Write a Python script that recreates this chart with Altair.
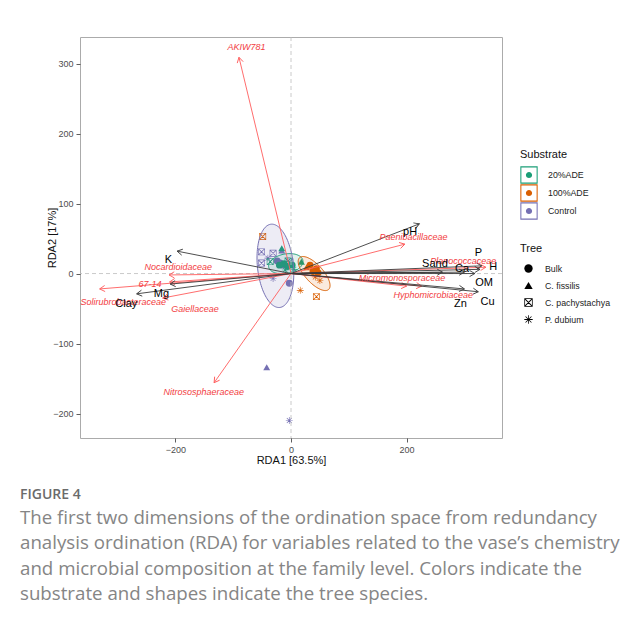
import numpy as np
import pandas as pd
import altair as alt

# ---------------- axes ----------------
x_domain = [-365, 365]
y_domain = [-235, 338]
x_ticks = [-200, 0, 200]
y_ticks = [-200, -100, 0, 100, 200, 300]

substrates = ["20%ADE", "100%ADE", "Control"]
sub_colors = ["#1b9e77", "#d95f02", "#7570b3"]
trees = ["Bulk", "C. fissilis", "C. pachystachya", "P. dubium"]

# ---------------- samples ----------------
sample_substrate = (["Control"] * 13 + ["20%ADE"] * 10 + ["100%ADE"] * 10)
sample_tree = (
    ["Bulk"] * 4 + ["C. fissilis"] * 2 + ["C. pachystachya"] * 4 + ["P. dubium"] * 3
    + ["Bulk"] * 4 + ["C. fissilis"] * 2 + ["C. pachystachya"] * 2 + ["P. dubium"] * 2
    + ["Bulk"] * 4 + ["C. fissilis"] * 1 + ["C. pachystachya"] * 2 + ["P. dubium"] * 3
)
sample_x = [-19, -24, -14, -3, -16, -42, -51, -51, -31, -2, -31, -3, -40,
            -12, -6, -20, 2, -16, 18, -36, -5, -10, 5,
            33, 44, 47, 38, 27, -49, 44, 42, 50, 16]
sample_y = [15, 18, 12, -14, 33, -134, 31, 15, 29, 17, -7, -210, 22,
            14, 10, 12, 12, 36, 17, 17, 18, 5, 6,
            12, 7, 1, 3, 9, 53, -33, -5, -10, -24]

# ---------------- confidence ellipses ----------------
ell_substrate = ["20%ADE", "100%ADE", "Control"]
ell_cx = [-9, 40, -27]
ell_cy = [14, 0, 11]
ell_a = [30, 34, 60]
ell_b = [14, 14, 31]
ell_angle = [8, -40, 98]

# ---------------- environmental vectors ----------------
env_names = ["pH", "K", "P", "Sand", "Ca", "H", "OM", "Cu", "Zn", "Mg", "Clay"]
env_tx = [222, -197, 330, 262, 300, 327, 318, 324, 300, -209, -267]
env_ty = [71, 32, 11, 2, 2, 6, 0, -26, -22, -15, -29]
env_lx = [206, -212, 324, 249, 296, 350, 334, 340, 293, -224, -285]
env_ly = [59, 20, 29, 14, 7, 9, -14, -40, -44, -29, -43]

# ---------------- taxa vectors ----------------
tax_names = ["AKIW781", "Nitrososphaeraceae", "Paenibacillaceae", "Planococcaceae",
             "Micromonosporaceae", "Hyphomicrobiaceae", "Nocardioidaceae", "67-14",
             "Solirubrobacteraceae", "Gaiellaceae"]
tax_tx = [-90, -133, 197, 337, 200, 226, -211, -210, -331, -222]
tax_ty = [309, -156, 42, 9, -18, -18, -2, -12, -22, -35]
tax_lx = [-77, -151, 212, 298, 192, 246, -195, -244, -290, -166]
tax_ly = [323, -169, 52, 18, -6, -31, 10, -15, -40, -50]

caption_head = "FIGURE 4"
caption_lines = [
    "The first two dimensions of the ordination space from redundancy",
    "analysis ordination (RDA) for variables related to the vase\u2019s chemistry",
    "and microbial composition at the family level. Colors indicate the",
    "substrate and shapes indicate the tree species.",
]

W, H = 422, 401
kx = W / (x_domain[1] - x_domain[0])
ky = H / (y_domain[1] - y_domain[0])


def head_angle(tx, ty):
    return [float(np.degrees(np.arctan2(-y * ky, x * kx)) % 360) for x, y in zip(tx, ty)]


df_s = pd.DataFrame({"substrate": sample_substrate, "tree": sample_tree,
                     "x": sample_x, "y": sample_y})
df_env = pd.DataFrame({"name": env_names, "tx": env_tx, "ty": env_ty,
                       "lx": env_lx, "ly": env_ly, "x0": 0, "y0": 0,
                       "ang": head_angle(env_tx, env_ty)})
df_tax = pd.DataFrame({"name": tax_names, "tx": tax_tx, "ty": tax_ty,
                       "lx": tax_lx, "ly": tax_ly, "x0": 0, "y0": 0,
                       "ang": head_angle(tax_tx, tax_ty)})

# ellipse geometry from centre / radii / rotation
rows_line, rows_fill = [], []
for s, cx, cy, a, b, ang in zip(ell_substrate, ell_cx, ell_cy, ell_a, ell_b, ell_angle):
    th = np.radians(ang)
    c, sn = np.cos(th), np.sin(th)
    t = np.linspace(0, 2 * np.pi, 121)
    ex = cx + a * np.cos(t) * c - b * np.sin(t) * sn
    ey = cy + a * np.cos(t) * sn + b * np.sin(t) * c
    for i, (u, v) in enumerate(zip(ex, ey)):
        rows_line.append({"substrate": s, "o": i, "x": float(u), "y": float(v)})
    M11 = c * c / a ** 2 + sn * sn / b ** 2
    M22 = sn * sn / a ** 2 + c * c / b ** 2
    M12 = c * sn * (1 / a ** 2 - 1 / b ** 2)
    half = np.sqrt(a * a * c * c + b * b * sn * sn)
    us = np.linspace(-half, half, 101)
    disc = np.clip(M12 ** 2 * us ** 2 - M22 * (M11 * us ** 2 - 1), 0, None)
    v1 = (-M12 * us + np.sqrt(disc)) / M22
    v2 = (-M12 * us - np.sqrt(disc)) / M22
    for u, p, q in zip(us, v1, v2):
        rows_fill.append({"substrate": s, "x": float(cx + u), "y": float(cy + p), "y2": float(cy + q)})
df_el = pd.DataFrame(rows_line)
df_ef = pd.DataFrame(rows_fill)

xs = alt.Scale(domain=x_domain, nice=False, zero=False)
ys = alt.Scale(domain=y_domain, nice=False, zero=False)
X = lambda f, **k: alt.X(f, type="quantitative", scale=xs, **k)
Y = lambda f, **k: alt.Y(f, type="quantitative", scale=ys, **k)
csc = alt.Scale(domain=substrates, range=sub_colors)

FONT = "Liberation Sans"

# custom symbol shapes
KEY = ("M-1,-1H1V1H-1Z M-0.88,-0.88V0.88H0.88V-0.88Z "
       "M-0.36,0A0.36,0.36 0 1,1 0.36,0A0.36,0.36 0 1,1 -0.36,0Z")
SQX = ("M-1,-1H1V1H-1Z M-0.82,-0.82V0.82H0.82V-0.82Z "
       "M-0.82,-0.82L-0.66,-0.82L0.82,0.66L0.82,0.82L0.66,0.82L-0.82,-0.66Z "
       "M0.82,-0.66L-0.66,0.82L-0.82,0.82L-0.82,0.66L0.66,-0.82L0.82,-0.82Z")
AST = ("M-1,-0.09H1V0.09H-1Z M-0.09,-1H0.09V1H-0.09Z "
       "M-0.6435,-0.7707L0.7707,0.6435L0.6435,0.7707L-0.7707,-0.6435Z "
       "M-0.7707,0.6435L0.6435,-0.7707L0.7707,-0.6435L-0.6435,0.7707Z")
ARROW = "M-1,-0.58L0,0L-1,0.58"

sub_legend = alt.Legend(title="Substrate", orient="none", legendX=440, legendY=112,
                        symbolType=KEY, symbolSize=300, symbolStrokeWidth=0,
                        symbolOpacity=1, rowPadding=0, titlePadding=6, labelOffset=10)
color_enc = alt.Color("substrate:N", scale=csc, legend=sub_legend)

# ---------- layers ----------
points = alt.Chart(df_s).mark_point(filled=True, size=48, opacity=1).encode(
    x=X("x", axis=alt.Axis(values=x_ticks, title="RDA1 [63.5%]")),
    y=Y("y", axis=alt.Axis(values=y_ticks, title="RDA2 [17%]")),
    color=color_enc,
    shape=alt.Shape("tree:N", scale=alt.Scale(domain=trees, range=["circle", "triangle-up", SQX, AST]),
                    legend=alt.Legend(title="Tree", orient="none", legendX=440, legendY=206,
                                      symbolSize=70, rowPadding=7, titlePadding=10,
                                      symbolOffset=4, labelOffset=12,
                                      symbolFillColor="black", symbolStrokeColor="black",
                                      symbolStrokeWidth=0)),
)

ell_fill = alt.Chart(df_ef).mark_area(opacity=0.13).encode(
    x=X("x"), y=Y("y"), y2="y2", color=color_enc, detail="substrate:N",
)
ell_line = alt.Chart(df_el).mark_line(strokeWidth=1).encode(
    x=X("x"), y=Y("y"), order="o:Q", color=color_enc, detail="substrate:N",
)

zero_v = alt.Chart(pd.DataFrame({"v": [0]})).mark_rule(
    color="#bdbdbd", strokeDash=[4, 3], strokeWidth=0.8).encode(x=X("v"))
zero_h = alt.Chart(pd.DataFrame({"v": [0]})).mark_rule(
    color="#bdbdbd", strokeDash=[4, 3], strokeWidth=0.8).encode(y=Y("v"))

tax_shaft = alt.Chart(df_tax).mark_rule(color="#ff5c5c", strokeWidth=0.9).encode(
    x=X("x0"), y=Y("y0"), x2="tx", y2="ty")
tax_head = alt.Chart(df_tax).mark_point(shape=ARROW, filled=False, size=110,
                                        color="#ff5c5c", strokeWidth=0.9, opacity=1).encode(
    x=X("tx"), y=Y("ty"), angle=alt.Angle("ang:Q", scale=None))
env_shaft = alt.Chart(df_env).mark_rule(color="#3a3a3a", strokeWidth=0.9).encode(
    x=X("x0"), y=Y("y0"), x2="tx", y2="ty")
env_head = alt.Chart(df_env).mark_point(shape=ARROW, filled=False, size=110,
                                        color="#3a3a3a", strokeWidth=0.9, opacity=1).encode(
    x=X("tx"), y=Y("ty"), angle=alt.Angle("ang:Q", scale=None))

tax_text = alt.Chart(df_tax).mark_text(font=FONT, fontSize=9, fontStyle="italic",
                                       color="#f23c42").encode(
    x=X("lx"), y=Y("ly"), text="name:N")
env_text = alt.Chart(df_env).mark_text(font=FONT, fontSize=11, color="#000000").encode(
    x=X("lx"), y=Y("ly"), text="name:N")

cap_head = alt.Chart(pd.DataFrame({"t": [caption_head]})).mark_text(
    font="Open Sans", fontSize=14, fontWeight=600, color="#6b6b6b", align="left",
    baseline="alphabetic").encode(x=alt.value(-60), y=alt.value(462), text="t:N")
cap_body = alt.Chart(pd.DataFrame({"t": [caption_lines]})).mark_text(
    font="Open Sans", fontSize=18.7, color="#858585", align="left", baseline="alphabetic",
    lineHeight=25.3).encode(x=alt.value(-60), y=alt.value(487), text="t")

chart = alt.layer(
    points, ell_fill, ell_line, zero_v, zero_h,
    tax_shaft, tax_head, env_shaft, env_head, tax_text, env_text,
    cap_head, cap_body,
).properties(
    width=W, height=H,
    autosize=alt.AutoSizeParams(type="none"),
    padding={"left": 72, "top": 29, "right": 131, "bottom": 181},
    background="white",
).configure_view(
    stroke="#ababab", strokeWidth=1
).configure_axis(
    grid=False, domain=False, tickColor="#333333", tickSize=4, tickWidth=0.8,
    labelFont=FONT, labelFontSize=9, labelColor="#4d4d4d", labelPadding=3,
    titleFont=FONT, titleFontSize=11, titleFontWeight="normal", titleColor="#111111",
).configure_axisX(titlePadding=0).configure_axisY(titlePadding=-5).configure_legend(
    titleFont=FONT, titleFontSize=11, titleFontWeight="normal", titleColor="#111111",
    labelFont=FONT, labelFontSize=8.8, labelColor="#222222", padding=0,
)

chart.save("out.html", embed_options={"renderer": "svg", "actions": False})
